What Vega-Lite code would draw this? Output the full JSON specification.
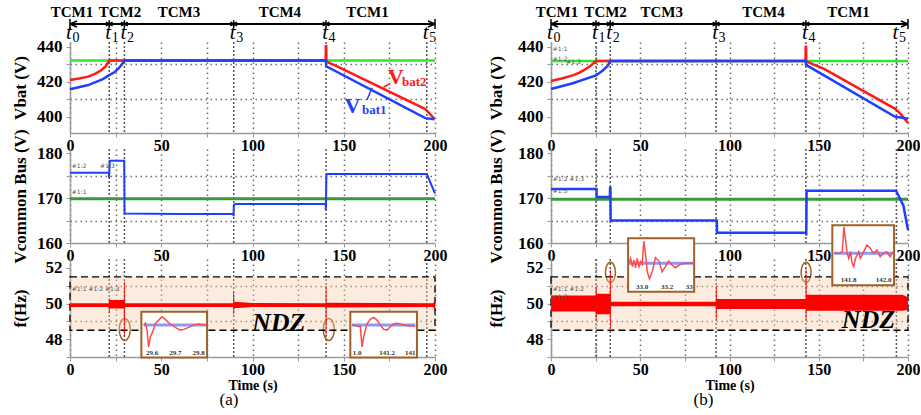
{
"$schema": "https://vega.github.io/schema/vega-lite/v6.json",
"padding": {"left": 10, "top": 4, "right": 0, "bottom": 0},
"spacing": 40,
"datasets": {
"ev_a": [{"t":0,"n":0},{"t":21.5,"n":1},{"t":29.8,"n":2},{"t":89.7,"n":3},{"t":140.3,"n":4},{"t":195.5,"n":5}],
"ev_b": [{"t":0,"n":0},{"t":25.2,"n":1},{"t":33.2,"n":2},{"t":92.5,"n":3},{"t":142.8,"n":4},{"t":193.5,"n":5}],
"tcm_a": [{"t":1.1,"label":"TCM1"},{"t":27.4,"label":"TCM2"},{"t":59.7,"label":"TCM3"},{"t":115,"label":"TCM4"},{"t":163,"label":"TCM1"}],
"tcm_b": [{"t":3.3,"label":"TCM1"},{"t":30.6,"label":"TCM2"},{"t":62,"label":"TCM3"},{"t":119,"label":"TCM4"},{"t":166.7,"label":"TCM1"}],
"vbat_a": [
{"t":0,"v":432.2,"s":"ref"},{"t":200,"v":432.2,"s":"ref"},
{"t":0,"v":421,"s":"bat2"},{"t":5,"v":421.8,"s":"bat2"},{"t":10,"v":422.9,"s":"bat2"},{"t":14,"v":424.6,"s":"bat2"},{"t":17.3,"v":426.7,"s":"bat2"},{"t":19.5,"v":428.8,"s":"bat2"},{"t":21.5,"v":432.2,"s":"bat2"},{"t":140.1,"v":432.2,"s":"bat2"},{"t":140.2,"v":440.3,"s":"bat2"},{"t":140.4,"v":440.3,"s":"bat2"},{"t":140.5,"v":431.5,"s":"bat2"},{"t":145.5,"v":429.2,"s":"bat2"},{"t":194.7,"v":404.4,"s":"bat2"},{"t":199.8,"v":398.7,"s":"bat2"},
{"t":0,"v":415.7,"s":"bat1"},{"t":10,"v":418.1,"s":"bat1"},{"t":18,"v":421.5,"s":"bat1"},{"t":21.5,"v":423.8,"s":"bat1"},{"t":24.5,"v":425.5,"s":"bat1"},{"t":26.6,"v":427.6,"s":"bat1"},{"t":28.5,"v":430,"s":"bat1"},{"t":29.8,"v":432.2,"s":"bat1"},{"t":140.2,"v":432.2,"s":"bat1"},{"t":140.4,"v":428.8,"s":"bat1"},{"t":194.7,"v":399.2,"s":"bat1"},{"t":199.8,"v":398.6,"s":"bat1"}],
"vbat_b": [
{"t":0,"v":431.8,"s":"ref"},{"t":200,"v":431.8,"s":"ref"},
{"t":0,"v":420.4,"s":"bat2"},{"t":6,"v":421.8,"s":"bat2"},{"t":12.2,"v":423.6,"s":"bat2"},{"t":16,"v":425.2,"s":"bat2"},{"t":19.6,"v":427.3,"s":"bat2"},{"t":22.5,"v":429.4,"s":"bat2"},{"t":25.2,"v":431.8,"s":"bat2"},{"t":142.6,"v":431.8,"s":"bat2"},{"t":142.7,"v":440,"s":"bat2"},{"t":142.9,"v":440,"s":"bat2"},{"t":143,"v":431.6,"s":"bat2"},{"t":153,"v":427.3,"s":"bat2"},{"t":192.8,"v":404.5,"s":"bat2"},{"t":196,"v":401.5,"s":"bat2"},{"t":200,"v":396.4,"s":"bat2"},
{"t":0,"v":415.8,"s":"bat1"},{"t":12.2,"v":419.1,"s":"bat1"},{"t":25.2,"v":423.6,"s":"bat1"},{"t":29,"v":426.4,"s":"bat1"},{"t":31.8,"v":429.1,"s":"bat1"},{"t":33.2,"v":431.8,"s":"bat1"},{"t":142.7,"v":431.8,"s":"bat1"},{"t":142.9,"v":429.6,"s":"bat1"},{"t":192.8,"v":400,"s":"bat1"},{"t":196,"v":399.6,"s":"bat1"},{"t":200,"v":398.8,"s":"bat1"}],
"bus_a": [
{"t":0,"v":169.9,"s":"ref"},{"t":200,"v":169.9,"s":"ref"},
{"t":0,"v":175.7,"s":"bus"},{"t":21.3,"v":175.7,"s":"bus"},{"t":21.4,"v":174.6,"s":"bus"},{"t":21.6,"v":176.5,"s":"bus"},{"t":21.8,"v":178.4,"s":"bus"},{"t":29.7,"v":178.4,"s":"bus"},{"t":29.9,"v":166.6,"s":"bus"},{"t":60,"v":166.5,"s":"bus"},{"t":89.5,"v":166.5,"s":"bus"},{"t":89.6,"v":166.0,"s":"bus"},{"t":89.8,"v":168.5,"s":"bus"},{"t":90.5,"v":168.7,"s":"bus"},{"t":140.1,"v":168.7,"s":"bus"},{"t":140.2,"v":167.3,"s":"bus"},{"t":140.5,"v":175.2,"s":"bus"},{"t":141,"v":175.4,"s":"bus"},{"t":195.5,"v":175.4,"s":"bus"},{"t":200,"v":171.1,"s":"bus"}],
"bus_b": [
{"t":0,"v":169.8,"s":"ref"},{"t":200,"v":169.8,"s":"ref"},
{"t":0,"v":172.05,"s":"bus"},{"t":25.5,"v":172.05,"s":"bus"},{"t":25.6,"v":170.3,"s":"bus"},{"t":33.0,"v":170.3,"s":"bus"},{"t":33.1,"v":172.3,"s":"bus"},{"t":33.3,"v":172.3,"s":"bus"},{"t":33.4,"v":165.0,"s":"bus"},{"t":92.9,"v":165.0,"s":"bus"},{"t":93.0,"v":162.3,"s":"bus"},{"t":142.9,"v":162.3,"s":"bus"},{"t":143.0,"v":161.7,"s":"bus"},{"t":143.2,"v":171.7,"s":"bus"},{"t":193.3,"v":171.7,"s":"bus"},{"t":197.4,"v":168.4,"s":"bus"},{"t":200,"v":162.9,"s":"bus"}],
"f_a": [
{"t":0,"v":49.8,"v2":50.02},{"t":21.2,"v":49.8,"v2":50.02},{"t":21.3,"v":49.45,"v2":50.28},{"t":21.7,"v":49.45,"v2":50.28},{"t":21.8,"v":49.72,"v2":50.2},{"t":29.5,"v":49.72,"v2":50.2},{"t":29.6,"v":48.2,"v2":51.24},{"t":30.0,"v":48.2,"v2":51.24},{"t":30.1,"v":49.8,"v2":50.02},{"t":89.4,"v":49.8,"v2":50.02},{"t":89.5,"v":49.38,"v2":50.67},{"t":89.9,"v":49.38,"v2":50.67},{"t":90.0,"v":49.74,"v2":50.1},{"t":100,"v":49.8,"v2":50.03},{"t":140.0,"v":49.8,"v2":50.02},{"t":140.1,"v":48.2,"v2":50.95},{"t":140.5,"v":48.2,"v2":50.95},{"t":140.6,"v":49.78,"v2":50.04},{"t":199,"v":49.8,"v2":50.02},{"t":199.5,"v":49.7,"v2":50.12},{"t":200,"v":49.7,"v2":50.12}],
"f_b": [
{"t":0,"v":49.55,"v2":50.45},{"t":25.0,"v":49.55,"v2":50.45},{"t":25.1,"v":49.0,"v2":50.95},{"t":25.5,"v":49.0,"v2":50.95},{"t":25.6,"v":49.4,"v2":50.55},{"t":33.0,"v":49.4,"v2":50.55},{"t":33.1,"v":48.6,"v2":51.9},{"t":33.5,"v":48.6,"v2":51.9},{"t":33.6,"v":49.85,"v2":50.1},{"t":92.3,"v":49.85,"v2":50.1},{"t":92.4,"v":49.1,"v2":51.0},{"t":92.8,"v":49.1,"v2":51.0},{"t":92.9,"v":49.7,"v2":50.25},{"t":142.6,"v":49.7,"v2":50.25},{"t":142.7,"v":49.05,"v2":51.95},{"t":143.1,"v":49.05,"v2":51.95},{"t":143.2,"v":49.6,"v2":50.5},{"t":197,"v":49.6,"v2":50.5},{"t":200,"v":49.65,"v2":50.35}],
"ndz": [{"t":0,"t2":200,"v":48.5,"v2":51.5}],
"box_a": [{"t":39.1,"t2":75.1,"v":46.97,"v2":49.54},{"t":153.6,"t2":190.1,"v":46.97,"v2":49.54}],
"box_b": [{"t":43.2,"t2":80.2,"v":50.66,"v2":53.66},{"t":157.6,"t2":192.2,"v":51.03,"v2":54.4}],
"ins_a": [
{"t":40.4,"v":48.79,"s":"b","g":1},{"t":74.5,"v":48.79,"s":"b","g":1},{"t":154.5,"v":48.79,"s":"b","g":2},{"t":189.2,"v":48.79,"s":"b","g":2},
{"t":40.4,"v":48.79,"s":"r","g":1},{"t":41.3,"v":48.89,"s":"r","g":1},{"t":42.2,"v":48.51,"s":"r","g":1},{"t":43.1,"v":47.57,"s":"r","g":1},{"t":44,"v":48.13,"s":"r","g":1},{"t":45.3,"v":48.42,"s":"r","g":1},{"t":46.8,"v":48.89,"s":"r","g":1},{"t":48.6,"v":49.07,"s":"r","g":1},{"t":50.4,"v":49.26,"s":"r","g":1},{"t":52.2,"v":49.11,"s":"r","g":1},{"t":54.1,"v":48.92,"s":"r","g":1},{"t":55.9,"v":48.79,"s":"r","g":1},{"t":58.6,"v":48.61,"s":"r","g":1},{"t":60.5,"v":48.51,"s":"r","g":1},{"t":62.3,"v":48.55,"s":"r","g":1},{"t":65,"v":48.66,"s":"r","g":1},{"t":67.8,"v":48.79,"s":"r","g":1},{"t":70.5,"v":48.85,"s":"r","g":1},{"t":73.3,"v":48.79,"s":"r","g":1},{"t":74.5,"v":48.79,"s":"r","g":1},
{"t":154.5,"v":48.79,"s":"r","g":2},{"t":157.3,"v":48.74,"s":"r","g":2},{"t":159.1,"v":48.7,"s":"r","g":2},{"t":160,"v":47.57,"s":"r","g":2},{"t":160.9,"v":48.13,"s":"r","g":2},{"t":162.7,"v":48.85,"s":"r","g":2},{"t":164.5,"v":49.11,"s":"r","g":2},{"t":166.4,"v":49.22,"s":"r","g":2},{"t":168.2,"v":49.07,"s":"r","g":2},{"t":170,"v":48.79,"s":"r","g":2},{"t":171.9,"v":48.55,"s":"r","g":2},{"t":173.7,"v":48.51,"s":"r","g":2},{"t":175.5,"v":48.7,"s":"r","g":2},{"t":177.4,"v":48.85,"s":"r","g":2},{"t":179.2,"v":48.89,"s":"r","g":2},{"t":181,"v":48.85,"s":"r","g":2},{"t":182.8,"v":48.79,"s":"r","g":2},{"t":185.6,"v":48.74,"s":"r","g":2},{"t":189.2,"v":48.74,"s":"r","g":2}],
"ins_b": [
{"t":43.7,"v":52.26,"s":"b","g":1},{"t":79.8,"v":52.26,"s":"b","g":1},{"t":158.5,"v":52.82,"s":"b","g":2},{"t":191.5,"v":52.82,"s":"b","g":2},
{"t":43.7,"v":52.26,"s":"r","g":1},{"t":44.6,"v":52.54,"s":"r","g":1},{"t":45.6,"v":52.07,"s":"r","g":1},{"t":46.5,"v":52.44,"s":"r","g":1},{"t":47.4,"v":52.01,"s":"r","g":1},{"t":48.3,"v":52.54,"s":"r","g":1},{"t":49.3,"v":52.07,"s":"r","g":1},{"t":50.2,"v":52.35,"s":"r","g":1},{"t":51.1,"v":52.2,"s":"r","g":1},{"t":52.0,"v":53.51,"s":"r","g":1},{"t":53.0,"v":52.72,"s":"r","g":1},{"t":53.9,"v":51.79,"s":"r","g":1},{"t":55.2,"v":51.38,"s":"r","g":1},{"t":56.7,"v":51.79,"s":"r","g":1},{"t":58.5,"v":52.58,"s":"r","g":1},{"t":60.4,"v":52.4,"s":"r","g":1},{"t":62.2,"v":51.79,"s":"r","g":1},{"t":64.1,"v":52.07,"s":"r","g":1},{"t":65.9,"v":52.39,"s":"r","g":1},{"t":67.8,"v":52.16,"s":"r","g":1},{"t":69.6,"v":52.01,"s":"r","g":1},{"t":72.4,"v":52.2,"s":"r","g":1},{"t":75.2,"v":52.26,"s":"r","g":1},{"t":79.8,"v":52.26,"s":"r","g":1},
{"t":158.5,"v":52.82,"s":"r","g":2},{"t":161.3,"v":52.82,"s":"r","g":2},{"t":163.2,"v":52.91,"s":"r","g":2},{"t":164.1,"v":54.31,"s":"r","g":2},{"t":165,"v":53.57,"s":"r","g":2},{"t":165.9,"v":52.82,"s":"r","g":2},{"t":166.8,"v":52.54,"s":"r","g":2},{"t":167.8,"v":52.91,"s":"r","g":2},{"t":168.7,"v":52.26,"s":"r","g":2},{"t":169.6,"v":52.07,"s":"r","g":2},{"t":170.6,"v":52.54,"s":"r","g":2},{"t":172.4,"v":52.91,"s":"r","g":2},{"t":173.3,"v":52.54,"s":"r","g":2},{"t":175.2,"v":52.91,"s":"r","g":2},{"t":177,"v":53.29,"s":"r","g":2},{"t":178.9,"v":53.1,"s":"r","g":2},{"t":180.7,"v":52.82,"s":"r","g":2},{"t":182.6,"v":53.0,"s":"r","g":2},{"t":184.4,"v":52.63,"s":"r","g":2},{"t":186.3,"v":52.82,"s":"r","g":2},{"t":188.1,"v":52.91,"s":"r","g":2},{"t":190,"v":52.63,"s":"r","g":2},{"t":191.5,"v":52.91,"s":"r","g":2}],
"inlab_a": [{"t":45,"v":47.2,"label":"29.6"},{"t":57.7,"v":47.2,"label":"29.7"},{"t":70.5,"v":47.2,"label":"29.8"},{"t":157.3,"v":47.2,"label":"1.0"},{"t":173.7,"v":47.2,"label":"141.2"},{"t":186.5,"v":47.2,"label":"141"}],
"inlab_b": [{"t":51.1,"v":50.94,"label":"33.0"},{"t":65,"v":50.94,"label":"33.2"},{"t":77.4,"v":50.94,"label":"33"},{"t":166.8,"v":51.3,"label":"141.8"},{"t":186.3,"v":51.3,"label":"142.0"}],
"ell_a": [{"t":30,"v":48.55},{"t":141.8,"v":48.55}],
"ell_b": [{"t":33.3,"v":51.75},{"t":142.9,"v":51.75}],
"ndzlab_a": [{"t":114.4,"v":48.9}],
"ndzlab_b": [{"t":177.8,"v":49.1}],
"vlab_a": [{"t":178.4,"v":422.7,"ts":181.9,"vs":419.6,"s":"bat2","sub":"bat2"},{"t":154.8,"v":406.1,"ts":160,"vs":403.6,"s":"bat1","sub":"bat1"}],
"arrow_a": [{"t":175.3,"v":418.8,"t2":171.8,"v2":417.0,"s":"bat2"},{"t":162.7,"v":409.6,"t2":165.5,"v2":416.5,"s":"bat1"}],
"note_a2": [{"t":1,"v":177.3,"label":"#1:2"},{"t":16.5,"v":177.3,"label":"#1:3"},{"t":1,"v":171.4,"label":"#1:1"}],
"note_a3": [{"t":1,"v":50.8,"label":"#1:1  #1:2 #1:3"}],
"note_b1": [{"t":1,"v":438.8,"label":"#1:1"},{"t":1,"v":433.2,"label":"#1:2"},{"t":8.5,"v":431.2,"label":"#1:3"}],
"note_b2": [{"t":1,"v":174.2,"label":"#1:2 #1:3"},{"t":1,"v":171.6,"label":"#1:5"}],
"note_b3": [{"t":1,"v":50.8,"label":"#1:1  #1:2"},{"t":1,"v":50.35,"label":"#1:3"}]
},
"hconcat": [
{
"bounds": "flush", "spacing": 2,
"title": {"text": "(a)", "orient": "bottom", "font": "Liberation Serif", "fontWeight": "normal", "fontSize": 17, "anchor": "middle", "offset": 0},
"vconcat": [
{
"width": 365, "height": 36,
"layer": [
{"data": {"values": [{}]}, "mark": {"type": "rule", "color": "#000", "strokeWidth": 2},
 "encoding": {"x": {"datum": 0, "type": "quantitative", "scale": {"domain": [0, 200], "nice": false}, "axis": null}, "x2": {"datum": 200}, "y": {"datum": 20, "type": "quantitative", "scale": {"domain": [0, 36], "reverse": true, "nice": false, "zero": false}, "axis": null}}},
{"data": {"name": "ev_a"}, "transform": [{"filter": "datum.n > 0 && datum.n < 5"}], "mark": {"type": "point", "shape": "M0,-1L0,1M-0.87,-0.5L0.87,0.5M-0.87,0.5L0.87,-0.5", "size": 60, "stroke": "#000", "strokeWidth": 1.5, "filled": false, "opacity": 1},
 "encoding": {"x": {"field": "t", "type": "quantitative", "axis": null}, "y": {"datum": 20, "type": "quantitative", "axis": null}}},
{"data": {"values": [{"t": 0}]}, "mark": {"type": "point", "shape": "M0,-1L0,1M0,0L1.4,-0.6M0,0L1.4,0.6", "size": 100, "stroke": "#000", "strokeWidth": 1.5, "filled": false, "opacity": 1},
 "encoding": {"x": {"field": "t", "type": "quantitative", "axis": null}, "y": {"datum": 20, "type": "quantitative", "axis": null}}},
{"data": {"values": [{"t": 200}]}, "mark": {"type": "point", "shape": "M0,-1L0,1M0,0L-1.4,-0.6M0,0L-1.4,0.6", "size": 100, "stroke": "#000", "strokeWidth": 1.5, "filled": false, "opacity": 1},
 "encoding": {"x": {"field": "t", "type": "quantitative", "axis": null}, "y": {"datum": 20, "type": "quantitative", "axis": null}}},
{"data": {"name": "tcm_a"}, "mark": {"type": "text", "font": "Liberation Serif", "fontWeight": "bold", "fontSize": 15, "baseline": "middle"},
 "encoding": {"x": {"field": "t", "type": "quantitative", "axis": null}, "y": {"datum": 8, "type": "quantitative", "axis": null}, "text": {"field": "label"}}},
{"data": {"name": "ev_a"}, "mark": {"type": "text", "text": "t", "font": "Liberation Serif", "fontStyle": "italic", "fontSize": 21, "baseline": "middle", "dx": -1},
 "encoding": {"x": {"field": "t", "type": "quantitative", "axis": null}, "y": {"datum": 29, "type": "quantitative", "axis": null}}},
{"data": {"name": "ev_a"}, "mark": {"type": "text", "font": "Liberation Serif", "fontSize": 14, "baseline": "middle", "dx": 6},
 "encoding": {"x": {"field": "t", "type": "quantitative", "axis": null}, "y": {"datum": 34, "type": "quantitative", "axis": null}, "text": {"field": "n"}}}
]
},
{
"bounds": "flush", "spacing": 16,
"vconcat": [
{
"width": 365, "height": 91,
"layer": [
{"data": {"name": "ev_a"}, "transform": [{"filter": "datum.n > 0"}], "mark": {"type": "rule", "color": "#555", "strokeDash": [2, 2], "strokeWidth": 1.5},
 "encoding": {"x": {"field": "t", "type": "quantitative", "scale": {"domain": [0, 200], "nice": false}, "axis": {"values": [0,25,50,75,100,125,150,175,200], "tickCount": 20, "labelExpr": "datum.value % 50 == 0 ? datum.label : ''", "title": null}}}},
{"data": {"name": "vbat_a"}, "transform": [{"filter": "datum.s == 'ref'"}], "mark": {"type": "line", "color": "#2fe62f", "strokeWidth": 2.5},
 "encoding": {"x": {"field": "t", "type": "quantitative"}, "y": {"field": "v", "type": "quantitative", "scale": {"domain": [390.7, 442.7], "nice": false, "zero": false}, "axis": {"values": [400,410,420,430,440], "tickCount": 20, "format": "d", "labelExpr": "datum.value % 20 == 0 ? datum.label : ''", "title": "Vbat (V)", "titleX": -41, "gridOpacity": {"condition": {"test": "datum.value % 20 == 0", "value": 0}, "value": 1}}}}},
{"data": {"name": "vbat_a"}, "transform": [{"filter": "datum.s == 'bat2'"}], "mark": {"type": "line", "color": "#ff1a1a", "strokeWidth": 2.5},
 "encoding": {"x": {"field": "t", "type": "quantitative"}, "y": {"field": "v", "type": "quantitative"}}},
{"data": {"name": "vbat_a"}, "transform": [{"filter": "datum.s == 'bat1'"}], "mark": {"type": "line", "color": "#1f3fff", "strokeWidth": 2.5},
 "encoding": {"x": {"field": "t", "type": "quantitative"}, "y": {"field": "v", "type": "quantitative"}}},
{"data": {"name": "arrow_a"}, "mark": {"type": "rule", "strokeWidth": 1.5},
 "encoding": {"x": {"field": "t", "type": "quantitative"}, "y": {"field": "v", "type": "quantitative"}, "x2": {"field": "t2"}, "y2": {"field": "v2"}, "color": {"field": "s", "type": "nominal", "scale": {"domain": ["bat2", "bat1"], "range": ["#ff1a1a", "#1f3fff"]}, "legend": null}}},
{"data": {"name": "vlab_a"}, "mark": {"type": "text", "text": "V", "font": "Liberation Serif", "fontWeight": "bold", "fontSize": 22, "baseline": "middle"},
 "encoding": {"x": {"field": "t", "type": "quantitative"}, "y": {"field": "v", "type": "quantitative"}, "color": {"field": "s", "type": "nominal", "legend": null}}},
{"data": {"name": "vlab_a"}, "mark": {"type": "text", "font": "Liberation Serif", "fontWeight": "bold", "fontSize": 13, "baseline": "middle", "align": "left"},
 "encoding": {"x": {"field": "ts", "type": "quantitative"}, "y": {"field": "vs", "type": "quantitative"}, "text": {"field": "sub"}, "color": {"field": "s", "type": "nominal", "legend": null}}}
]
},
{
"width": 365, "height": 94,
"layer": [
{"data": {"name": "ev_a"}, "transform": [{"filter": "datum.n > 0"}], "mark": {"type": "rule", "color": "#555", "strokeDash": [2, 2], "strokeWidth": 1.5},
 "encoding": {"x": {"field": "t", "type": "quantitative", "scale": {"domain": [0, 200], "nice": false}, "axis": {"values": [0,25,50,75,100,125,150,175,200], "tickCount": 20, "labelExpr": "datum.value % 50 == 0 ? datum.label : ''", "title": null}}}},
{"data": {"name": "bus_a"}, "transform": [{"filter": "datum.s == 'ref'"}], "mark": {"type": "line", "color": "#3a9a3a", "strokeWidth": 3},
 "encoding": {"x": {"field": "t", "type": "quantitative"}, "y": {"field": "v", "type": "quantitative", "scale": {"domain": [160, 181], "nice": false, "zero": false}, "axis": {"values": [160,165,170,175,180], "tickCount": 20, "format": "d", "labelExpr": "datum.value % 10 == 0 ? datum.label : ''", "title": "Vcommon Bus (V)", "titleX": -41, "gridOpacity": {"condition": {"test": "datum.value % 10 == 0", "value": 0}, "value": 1}}}}},
{"data": {"name": "bus_a"}, "transform": [{"filter": "datum.s == 'bus'"}], "mark": {"type": "line", "color": "#1f3fff", "strokeWidth": 2},
 "encoding": {"x": {"field": "t", "type": "quantitative"}, "y": {"field": "v", "type": "quantitative"}}},
{"data": {"name": "note_a2"}, "mark": {"type": "text", "font": "DejaVu Sans", "fontSize": 6, "color": "#555", "align": "left", "baseline": "middle"},
 "encoding": {"x": {"field": "t", "type": "quantitative"}, "y": {"field": "v", "type": "quantitative"}, "text": {"field": "label"}}}
]
},
{
"width": 365, "height": 98,
"layer": [
{"data": {"name": "ev_a"}, "transform": [{"filter": "datum.n > 0"}], "mark": {"type": "rule", "color": "#555", "strokeDash": [2, 2], "strokeWidth": 1.5},
 "encoding": {"x": {"field": "t", "type": "quantitative", "scale": {"domain": [0, 200], "nice": false}, "axis": {"values": [0,25,50,75,100,125,150,175,200], "tickCount": 20, "labelExpr": "datum.value % 50 == 0 ? datum.label : ''", "title": "Time (s)", "titleFontSize": 14, "titlePadding": 1}}}},
{"data": {"name": "ell_a"}, "mark": {"type": "point", "shape": "M-0.5,0A0.5,1,0,1,1,0.5,0A0.5,1,0,1,1,-0.5,0Z", "size": 484, "stroke": "#a0602a", "strokeWidth": 1.5, "filled": false, "opacity": 1},
 "encoding": {"x": {"field": "t", "type": "quantitative"}, "y": {"field": "v", "type": "quantitative", "scale": {"domain": [47, 52.5], "nice": false, "zero": false}, "axis": {"values": [47,48,49,50,51,52], "tickCount": 20, "format": "d", "labelExpr": "datum.value == 48 || datum.value == 50 || datum.value == 52 ? datum.label : ''", "title": "f(Hz)", "titleX": -41, "gridOpacity": {"condition": {"test": "datum.value == 49 || datum.value == 51", "value": 1}, "value": 0}}}}},
{"data": {"name": "ndz"}, "mark": {"type": "rect", "fill": "#f7cfb0", "fillOpacity": 0.4, "stroke": "#000", "strokeDash": [7, 4], "strokeWidth": 1.3},
 "encoding": {"x": {"field": "t", "type": "quantitative"}, "x2": {"field": "t2"}, "y": {"field": "v", "type": "quantitative"}, "y2": {"field": "v2"}}},
{"data": {"name": "f_a"}, "mark": {"type": "area", "color": "#ff0000", "opacity": 1},
 "encoding": {"x": {"field": "t", "type": "quantitative"}, "y": {"field": "v", "type": "quantitative"}, "y2": {"field": "v2"}}},
{"data": {"name": "box_a"}, "mark": {"type": "rect", "fill": "#fff", "stroke": "#a0602a", "strokeWidth": 2},
 "encoding": {"x": {"field": "t", "type": "quantitative"}, "x2": {"field": "t2"}, "y": {"field": "v", "type": "quantitative"}, "y2": {"field": "v2"}}},
{"data": {"name": "ins_a"}, "transform": [{"filter": "datum.s == 'b'"}], "mark": {"type": "line", "color": "#8a9aff", "strokeWidth": 3},
 "encoding": {"x": {"field": "t", "type": "quantitative"}, "y": {"field": "v", "type": "quantitative"}, "detail": {"field": "g"}}},
{"data": {"name": "ins_a"}, "transform": [{"filter": "datum.s == 'r'"}], "mark": {"type": "line", "color": "#ff4a4a", "strokeWidth": 1.5},
 "encoding": {"x": {"field": "t", "type": "quantitative"}, "y": {"field": "v", "type": "quantitative"}, "detail": {"field": "g"}}},
{"data": {"name": "inlab_a"}, "mark": {"type": "text", "font": "Liberation Serif", "fontWeight": "bold", "fontSize": 7, "color": "#333", "baseline": "middle"},
 "encoding": {"x": {"field": "t", "type": "quantitative"}, "y": {"field": "v", "type": "quantitative"}, "text": {"field": "label"}}},
{"data": {"name": "note_a3"}, "mark": {"type": "text", "font": "DejaVu Sans", "fontSize": 6, "color": "#555", "align": "left", "baseline": "middle"},
 "encoding": {"x": {"field": "t", "type": "quantitative"}, "y": {"field": "v", "type": "quantitative"}, "text": {"field": "label"}}},
{"data": {"name": "ndzlab_a"}, "mark": {"type": "text", "text": "NDZ", "font": "Liberation Serif", "fontWeight": "bold", "fontStyle": "italic", "fontSize": 26, "baseline": "middle"},
 "encoding": {"x": {"field": "t", "type": "quantitative"}, "y": {"field": "v", "type": "quantitative"}}}
]
}
]
}
]
},
{
"bounds": "flush", "spacing": 2,
"title": {"text": "(b)", "orient": "bottom", "font": "Liberation Serif", "fontWeight": "normal", "fontSize": 17, "anchor": "middle", "offset": 0},
"vconcat": [
{
"width": 357, "height": 36,
"layer": [
{"data": {"values": [{}]}, "mark": {"type": "rule", "color": "#000", "strokeWidth": 2},
 "encoding": {"x": {"datum": 0, "type": "quantitative", "scale": {"domain": [0, 200], "nice": false}, "axis": null}, "x2": {"datum": 200}, "y": {"datum": 20, "type": "quantitative", "scale": {"domain": [0, 36], "reverse": true, "nice": false, "zero": false}, "axis": null}}},
{"data": {"name": "ev_b"}, "transform": [{"filter": "datum.n > 0 && datum.n < 5"}], "mark": {"type": "point", "shape": "M0,-1L0,1M-0.87,-0.5L0.87,0.5M-0.87,0.5L0.87,-0.5", "size": 60, "stroke": "#000", "strokeWidth": 1.5, "filled": false, "opacity": 1},
 "encoding": {"x": {"field": "t", "type": "quantitative", "axis": null}, "y": {"datum": 20, "type": "quantitative", "axis": null}}},
{"data": {"values": [{"t": 0}]}, "mark": {"type": "point", "shape": "M0,-1L0,1M0,0L1.4,-0.6M0,0L1.4,0.6", "size": 100, "stroke": "#000", "strokeWidth": 1.5, "filled": false, "opacity": 1},
 "encoding": {"x": {"field": "t", "type": "quantitative", "axis": null}, "y": {"datum": 20, "type": "quantitative", "axis": null}}},
{"data": {"values": [{"t": 200}]}, "mark": {"type": "point", "shape": "M0,-1L0,1M0,0L-1.4,-0.6M0,0L-1.4,0.6", "size": 100, "stroke": "#000", "strokeWidth": 1.5, "filled": false, "opacity": 1},
 "encoding": {"x": {"field": "t", "type": "quantitative", "axis": null}, "y": {"datum": 20, "type": "quantitative", "axis": null}}},
{"data": {"name": "tcm_b"}, "mark": {"type": "text", "font": "Liberation Serif", "fontWeight": "bold", "fontSize": 15, "baseline": "middle"},
 "encoding": {"x": {"field": "t", "type": "quantitative", "axis": null}, "y": {"datum": 8, "type": "quantitative", "axis": null}, "text": {"field": "label"}}},
{"data": {"name": "ev_b"}, "mark": {"type": "text", "text": "t", "font": "Liberation Serif", "fontStyle": "italic", "fontSize": 21, "baseline": "middle", "dx": -1},
 "encoding": {"x": {"field": "t", "type": "quantitative", "axis": null}, "y": {"datum": 29, "type": "quantitative", "axis": null}}},
{"data": {"name": "ev_b"}, "mark": {"type": "text", "font": "Liberation Serif", "fontSize": 14, "baseline": "middle", "dx": 6},
 "encoding": {"x": {"field": "t", "type": "quantitative", "axis": null}, "y": {"datum": 34, "type": "quantitative", "axis": null}, "text": {"field": "n"}}}
]
},
{
"bounds": "flush", "spacing": 16,
"vconcat": [
{
"width": 357, "height": 91,
"layer": [
{"data": {"name": "ev_b"}, "transform": [{"filter": "datum.n > 0"}], "mark": {"type": "rule", "color": "#555", "strokeDash": [2, 2], "strokeWidth": 1.5},
 "encoding": {"x": {"field": "t", "type": "quantitative", "scale": {"domain": [0, 200], "nice": false}, "axis": {"values": [0,25,50,75,100,125,150,175,200], "tickCount": 20, "labelExpr": "datum.value % 50 == 0 ? datum.label : ''", "title": null}}}},
{"data": {"name": "vbat_b"}, "transform": [{"filter": "datum.s == 'ref'"}], "mark": {"type": "line", "color": "#2fe62f", "strokeWidth": 2.5},
 "encoding": {"x": {"field": "t", "type": "quantitative"}, "y": {"field": "v", "type": "quantitative", "scale": {"domain": [390.7, 442.7], "nice": false, "zero": false}, "axis": {"values": [400,410,420,430,440], "tickCount": 20, "format": "d", "labelExpr": "datum.value % 20 == 0 ? datum.label : ''", "title": "Vbat (V)", "titleX": -46, "gridOpacity": {"condition": {"test": "datum.value % 20 == 0", "value": 0}, "value": 1}}}}},
{"data": {"name": "vbat_b"}, "transform": [{"filter": "datum.s == 'bat2'"}], "mark": {"type": "line", "color": "#ff1a1a", "strokeWidth": 2.5},
 "encoding": {"x": {"field": "t", "type": "quantitative"}, "y": {"field": "v", "type": "quantitative"}}},
{"data": {"name": "vbat_b"}, "transform": [{"filter": "datum.s == 'bat1'"}], "mark": {"type": "line", "color": "#1f3fff", "strokeWidth": 2.5},
 "encoding": {"x": {"field": "t", "type": "quantitative"}, "y": {"field": "v", "type": "quantitative"}}},
{"data": {"name": "note_b1"}, "mark": {"type": "text", "font": "DejaVu Sans", "fontSize": 6, "color": "#555", "align": "left", "baseline": "middle"},
 "encoding": {"x": {"field": "t", "type": "quantitative"}, "y": {"field": "v", "type": "quantitative"}, "text": {"field": "label"}}}
]
},
{
"width": 357, "height": 94,
"layer": [
{"data": {"name": "ev_b"}, "transform": [{"filter": "datum.n > 0"}], "mark": {"type": "rule", "color": "#555", "strokeDash": [2, 2], "strokeWidth": 1.5},
 "encoding": {"x": {"field": "t", "type": "quantitative", "scale": {"domain": [0, 200], "nice": false}, "axis": {"values": [0,25,50,75,100,125,150,175,200], "tickCount": 20, "labelExpr": "datum.value % 50 == 0 ? datum.label : ''", "title": null}}}},
{"data": {"name": "bus_b"}, "transform": [{"filter": "datum.s == 'ref'"}], "mark": {"type": "line", "color": "#3a9a3a", "strokeWidth": 3},
 "encoding": {"x": {"field": "t", "type": "quantitative"}, "y": {"field": "v", "type": "quantitative", "scale": {"domain": [160, 181], "nice": false, "zero": false}, "axis": {"values": [160,165,170,175,180], "tickCount": 20, "format": "d", "labelExpr": "datum.value % 10 == 0 ? datum.label : ''", "title": "Vcommon Bus (V)", "titleX": -46, "gridOpacity": {"condition": {"test": "datum.value % 10 == 0", "value": 0}, "value": 1}}}}},
{"data": {"name": "bus_b"}, "transform": [{"filter": "datum.s == 'bus'"}], "mark": {"type": "line", "color": "#1f3fff", "strokeWidth": 2.5},
 "encoding": {"x": {"field": "t", "type": "quantitative"}, "y": {"field": "v", "type": "quantitative"}}},
{"data": {"name": "note_b2"}, "mark": {"type": "text", "font": "DejaVu Sans", "fontSize": 6, "color": "#555", "align": "left", "baseline": "middle"},
 "encoding": {"x": {"field": "t", "type": "quantitative"}, "y": {"field": "v", "type": "quantitative"}, "text": {"field": "label"}}}
]
},
{
"width": 357, "height": 98,
"layer": [
{"data": {"name": "ev_b"}, "transform": [{"filter": "datum.n > 0"}], "mark": {"type": "rule", "color": "#555", "strokeDash": [2, 2], "strokeWidth": 1.5},
 "encoding": {"x": {"field": "t", "type": "quantitative", "scale": {"domain": [0, 200], "nice": false}, "axis": {"values": [0,25,50,75,100,125,150,175,200], "tickCount": 20, "labelExpr": "datum.value % 50 == 0 ? datum.label : ''", "title": "Time (s)", "titleFontSize": 14, "titlePadding": 1}}}},
{"data": {"name": "ell_b"}, "mark": {"type": "point", "shape": "M-0.5,0A0.5,1,0,1,1,0.5,0A0.5,1,0,1,1,-0.5,0Z", "size": 400, "stroke": "#a0602a", "strokeWidth": 1.5, "filled": false, "opacity": 1},
 "encoding": {"x": {"field": "t", "type": "quantitative"}, "y": {"field": "v", "type": "quantitative", "scale": {"domain": [47, 52.5], "nice": false, "zero": false}, "axis": {"values": [47,48,49,50,51,52], "tickCount": 20, "format": "d", "labelExpr": "datum.value == 48 || datum.value == 50 || datum.value == 52 ? datum.label : ''", "title": "f(Hz)", "titleX": -46, "gridOpacity": {"condition": {"test": "datum.value == 49 || datum.value == 51", "value": 1}, "value": 0}}}}},
{"data": {"name": "ndz"}, "mark": {"type": "rect", "fill": "#f7cfb0", "fillOpacity": 0.4, "stroke": "#000", "strokeDash": [7, 4], "strokeWidth": 1.3},
 "encoding": {"x": {"field": "t", "type": "quantitative"}, "x2": {"field": "t2"}, "y": {"field": "v", "type": "quantitative"}, "y2": {"field": "v2"}}},
{"data": {"name": "f_b"}, "mark": {"type": "area", "color": "#ff0000", "opacity": 1},
 "encoding": {"x": {"field": "t", "type": "quantitative"}, "y": {"field": "v", "type": "quantitative"}, "y2": {"field": "v2"}}},
{"data": {"name": "box_b"}, "mark": {"type": "rect", "fill": "#fff", "stroke": "#a0602a", "strokeWidth": 2},
 "encoding": {"x": {"field": "t", "type": "quantitative"}, "x2": {"field": "t2"}, "y": {"field": "v", "type": "quantitative"}, "y2": {"field": "v2"}}},
{"data": {"name": "ins_b"}, "transform": [{"filter": "datum.s == 'b'"}], "mark": {"type": "line", "color": "#8a9aff", "strokeWidth": 3},
 "encoding": {"x": {"field": "t", "type": "quantitative"}, "y": {"field": "v", "type": "quantitative"}, "detail": {"field": "g"}}},
{"data": {"name": "ins_b"}, "transform": [{"filter": "datum.s == 'r'"}], "mark": {"type": "line", "color": "#ff4a4a", "strokeWidth": 1.5},
 "encoding": {"x": {"field": "t", "type": "quantitative"}, "y": {"field": "v", "type": "quantitative"}, "detail": {"field": "g"}}},
{"data": {"name": "inlab_b"}, "mark": {"type": "text", "font": "Liberation Serif", "fontWeight": "bold", "fontSize": 7, "color": "#333", "baseline": "middle"},
 "encoding": {"x": {"field": "t", "type": "quantitative"}, "y": {"field": "v", "type": "quantitative"}, "text": {"field": "label"}}},
{"data": {"name": "note_b3"}, "mark": {"type": "text", "font": "DejaVu Sans", "fontSize": 6, "color": "#555", "align": "left", "baseline": "middle"},
 "encoding": {"x": {"field": "t", "type": "quantitative"}, "y": {"field": "v", "type": "quantitative"}, "text": {"field": "label"}}},
{"data": {"name": "ndzlab_b"}, "mark": {"type": "text", "text": "NDZ", "font": "Liberation Serif", "fontWeight": "bold", "fontStyle": "italic", "fontSize": 26, "baseline": "middle"},
 "encoding": {"x": {"field": "t", "type": "quantitative"}, "y": {"field": "v", "type": "quantitative"}}}
]
}
]
}
]
}
],
"config": {
"view": {"stroke": null},
"font": "Liberation Serif",
"axis": {"labelFont": "Liberation Serif", "labelFontWeight": "bold", "labelFontSize": 16, "labelColor": "#000", "titleFont": "Liberation Serif", "titleFontWeight": "bold", "titleFontSize": 17, "titleColor": "#000", "domainColor": "#9a9a9a", "domainWidth": 1.5, "tickColor": "#9a9a9a", "tickSize": 4, "gridColor": "#6e6e6e", "gridDash": [1.5, 3.5], "gridWidth": 1.5, "labelOverlap": false, "labelFlush": false, "labelPadding": 0},
"axisY": {"labelFontSize": 17, "labelPadding": 4}
}
}
